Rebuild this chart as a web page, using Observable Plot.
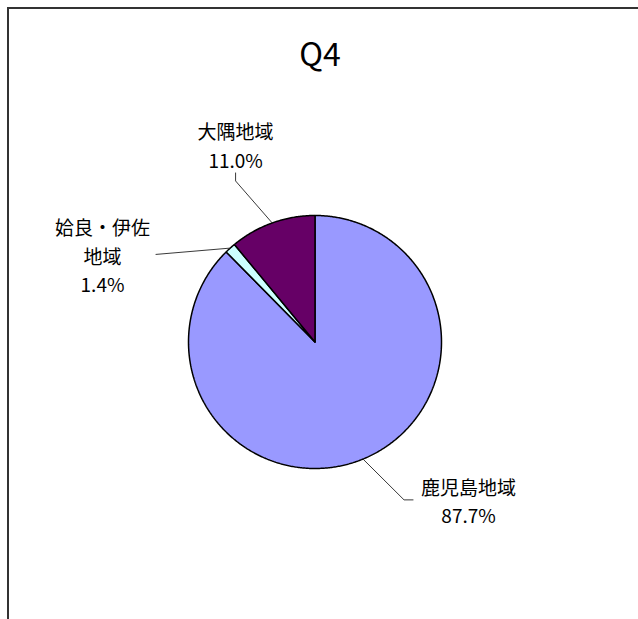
<!DOCTYPE html>
<html>
<head>
<meta charset="utf-8">
<script src="https://cdn.jsdelivr.net/npm/d3@7"></script>
<script src="https://cdn.jsdelivr.net/npm/@observablehq/plot@0.6"></script>
<style>
  body { margin: 0; background: #fff; }
  #wrap { position: relative; width: 638px; height: 619px; overflow: hidden; font-family: "Noto Sans CJK JP", "Noto Sans", sans-serif; }
  #frame { position: absolute; left: 7px; top: 7px; width: 720px; height: 720px; border-left: 2px solid #333; border-top: 2px solid #333; }
  #title { position: absolute; left: 0; width: 640px; top: 36px; text-align: center; font-size: 32px; color: #000; line-height: 1; }
  #chart { position: absolute; left: 0; top: 0; }
</style>
</head>
<body>
<div id="wrap">
  <div id="frame"></div>
  <div id="chart"></div>
  <div id="title">Q4</div>
</div>
<script>
// ---- data ----
const regions = ["鹿児島地域", "姶良・伊佐\n地域", "大隅地域"];
const shares = [87.7, 1.4, 11.0];
const sliceColors = ["#9999FF", "#CCFFFF", "#660066"];

// ---- label layout (angle clockwise from 12 o'clock in degrees, distance in pie radii) ----
const labelAngle = [135.8, 292.4, 338.1];
const labelDist = [1.741, 1.817, 1.683];
const leaderSide = ["left", "right", "bottom"];
const leaderGap = [8, 6, 0];

const fontSize = 19;
const lineHeight = 1.5;
const pieSide = 253;               // pixel diameter of the pie
const pxUnit = 2 / pieSide;        // data units per pixel

const arcs = d3.pie().sort(null).value(d => d)(shares);

// slice polygons in data units (radius 1)
const slices = [];
arcs.forEach((a, i) => {
  const name = regions[i];
  slices.push({region: name, x: 0, y: 0});
  const n = Math.max(2, Math.ceil((a.endAngle - a.startAngle) / (Math.PI / 360)));
  for (let k = 0; k <= n; k++) {
    const t = a.startAngle + (a.endAngle - a.startAngle) * k / n;
    slices.push({region: name, x: Math.sin(t), y: Math.cos(t)});
  }
  slices.push({region: name, x: 0, y: 0});
});

// labels
const labels = arcs.map((a, i) => {
  const ang = labelAngle[i] * Math.PI / 180;
  const text = regions[i] + "\n" + shares[i].toFixed(1) + "%";
  return {
    x: labelDist[i] * Math.sin(ang),
    y: labelDist[i] * Math.cos(ang),
    text,
    lines: text.split("\n")
  };
});

// leader lines
const leaders = [];
arcs.forEach((a, i) => {
  const mid = (a.startAngle + a.endAngle) / 2;
  const L = labels[i];
  const w = d3.max(L.lines, s => s.length) * fontSize;
  const h = L.lines.length * lineHeight * fontSize;
  const start = {x: Math.sin(mid), y: Math.cos(mid)};
  let pts;
  if (leaderSide[i] === "bottom") {
    const end = {x: L.x, y: L.y - (h / 2 + leaderGap[i]) * pxUnit};
    const bend = {x: end.x, y: end.y - 8 * pxUnit};
    pts = [start, bend, end];
  } else if (leaderSide[i] === "right") {
    const end = {x: L.x + (w / 2 + leaderGap[i]) * pxUnit, y: L.y};
    pts = [start, end];
  } else {
    const end = {x: L.x - (w / 2 + leaderGap[i]) * pxUnit, y: L.y};
    const bend = {x: end.x - 9 * pxUnit, y: end.y};
    pts = [start, bend, end];
  }
  pts.forEach(p => leaders.push({id: i, x: p.x, y: p.y}));
});

const chart = Plot.plot({
  width: 638,
  height: 619,
  marginLeft: 188,
  marginRight: 638 - 188 - pieSide,
  marginTop: 215,
  marginBottom: 619 - 215 - pieSide,
  x: {domain: [-1, 1], axis: null},
  y: {domain: [-1, 1], axis: null},
  color: {domain: regions, range: sliceColors},
  style: {fontFamily: '"Noto Sans CJK JP", "Noto Sans", sans-serif', background: "transparent", overflow: "visible"},
  marks: [
    Plot.line(slices, {x: "x", y: "y", z: "region", fill: "region", stroke: "#000", strokeWidth: 1.5, strokeLinejoin: "miter"}),
    Plot.line(leaders, {x: "x", y: "y", z: "id", stroke: "#222", strokeWidth: 0.9, strokeLinejoin: "miter"}),
    Plot.text(labels, {x: "x", y: "y", text: "text", fontSize: fontSize, lineHeight: lineHeight, lineAnchor: "middle", textAnchor: "middle", fill: "#000"})
  ]
});
document.getElementById("chart").appendChild(chart);
</script>
</body>
</html>
